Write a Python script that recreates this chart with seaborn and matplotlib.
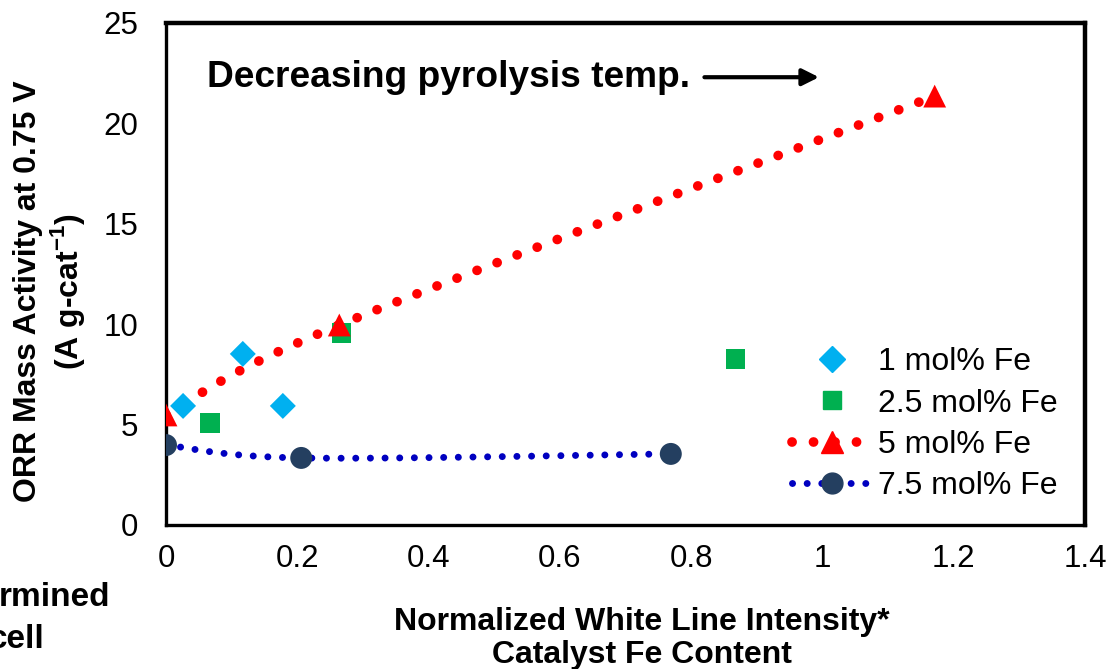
import numpy as np
import seaborn as sns
import matplotlib.pyplot as plt
from matplotlib.lines import Line2D

# data
fe1_x = [0.026, 0.117, 0.178]
fe1_y = [5.93, 8.52, 5.93]
fe25_x = [0.067, 0.268, 0.867]
fe25_y = [5.08, 9.56, 8.27]
fe5_x = [0.0, 0.264, 1.171]
fe5_y = [5.48, 9.96, 21.36]
fe75_x = [0.0, 0.206, 0.769]
fe75_y = [3.98, 3.34, 3.54]

labels = ["1 mol% Fe", "2.5 mol% Fe", "5 mol% Fe", "7.5 mol% Fe"]


def smooth(xs, ys, n=60):
    # excel-like "smoothed line": bezier segments with catmull-rom handles
    p = np.column_stack([xs, ys]).astype(float)
    p = np.vstack([p[0], p, p[-1]])
    out = []
    t = np.linspace(0, 1, n)[:, None]
    for i in range(1, len(p) - 2):
        a, b = p[i], p[i + 1]
        c1 = a + (p[i + 1] - p[i - 1]) / 6
        c2 = b - (p[i + 2] - p[i]) / 6
        seg = (1-t)**3*a + 3*(1-t)**2*t*c1 + 3*(1-t)*t**2*c2 + t**3*b
        out.append(seg)
    out = np.vstack(out)
    return out[:, 0], out[:, 1]


sns.set_style("white")
plt.rcParams['font.family'] = ['Liberation Sans', 'DejaVu Sans']
plt.rcParams['text.color'] = 'black'
plt.rcParams['axes.labelcolor'] = 'black'
plt.rcParams['xtick.color'] = 'black'
plt.rcParams['ytick.color'] = 'black'

fig = plt.figure(figsize=(11.1, 6.69), dpi=100)
ax = fig.add_axes([166/1110, 1-525/669, (1085-166)/1110, (525-23)/669])

red_ls = (0, (0.01, 2.2))
blue_ls = (0, (0.01, 2.1))
sx, sy = smooth(fe5_x, fe5_y)
ax.plot(sx, sy, color="#FF0000", lw=7, ls=red_ls, dash_capstyle="round", zorder=2)
sx, sy = smooth(fe75_x, fe75_y)
ax.plot(sx, sy, color="#0000C0", lw=5, ls=blue_ls, dash_capstyle="round", zorder=2)

sns.scatterplot(x=fe1_x, y=fe1_y, marker="D", s=175, color="#00B0F0", edgecolor="none", ax=ax, zorder=3)
sns.scatterplot(x=fe25_x, y=fe25_y, marker="s", s=190, color="#00B050", edgecolor="none", ax=ax, zorder=3)
sns.scatterplot(x=fe5_x, y=fe5_y, marker="^", s=270, color="#FF0000", edgecolor="none", ax=ax, zorder=3)
sns.scatterplot(x=fe75_x, y=fe75_y, marker="o", s=250, color="#243F60", edgecolor="none", ax=ax, zorder=3)

ax.set_xlim(0, 1.4)
ax.set_ylim(0, 25)
ax.set_xticks(np.arange(0, 1.41, 0.2))
ax.set_xticklabels(["0", "0.2", "0.4", "0.6", "0.8", "1", "1.2", "1.4"])
ax.set_yticks(range(0, 26, 5))
ax.tick_params(direction="in", length=6, width=1.2, color="#a6a6a6",
               labelcolor="black", labelsize=22.5)
ax.tick_params(axis="x", pad=14)
ax.tick_params(axis="y", pad=20)

for s in ["top", "right"]:
    ax.spines[s].set_linewidth(3.2)
    ax.spines[s].set_color("black")
for s in ["left", "bottom"]:
    ax.spines[s].set_linewidth(2.4)
    ax.spines[s].set_color("black")

ax.set_ylabel("ORR Mass Activity at 0.75 V\n(A g-cat$^{\\mathregular{-1}}$)",
              fontsize=23, fontweight="bold", linespacing=1.15)
ax.yaxis.set_label_coords(-0.086, 0.466)
ax.set_xlabel("Normalized White Line Intensity*\nCatalyst Fe Content",
              fontsize=23, fontweight="bold", linespacing=1.15)
ax.xaxis.set_label_coords(0.518, -0.163)

ax.annotate("", xy=(0.999, 22.3), xytext=(0.816, 22.3),
            arrowprops=dict(arrowstyle="-|>", color="black", lw=3, mutation_scale=25))
ax.text(0.0625, 22.3, "Decreasing pyrolysis temp.", fontsize=26.7, fontweight="bold",
        ha="left", va="center")

fig.text(110/1110, 1-597/669, "rmined", fontsize=24, fontweight="bold", ha="right", va="center")
fig.text(45/1110, 1-640/669, "cell", fontsize=24, fontweight="bold", ha="right", va="center")

handles = [
    Line2D([], [], ls="none", marker="D", ms=13, color="#00B0F0"),
    Line2D([], [], ls="none", marker="s", ms=13.5, color="#00B050"),
    Line2D([], [], color="#FF0000", lw=7, ls=red_ls, dash_capstyle="round",
           marker="^", ms=16, markevery=[1]),
    Line2D([], [], color="#0000C0", lw=5, ls=blue_ls, dash_capstyle="round",
           marker="o", ms=15, mfc="#243F60", mec="#243F60", markevery=[1]),
]
leg = ax.legend(handles, labels, loc="center left", bbox_to_anchor=(0.65, 0.201),
                frameon=False, fontsize=23, handlelength=2.5, handletextpad=0.2,
                labelspacing=0.35)

fig.savefig("out.png", dpi=100)
